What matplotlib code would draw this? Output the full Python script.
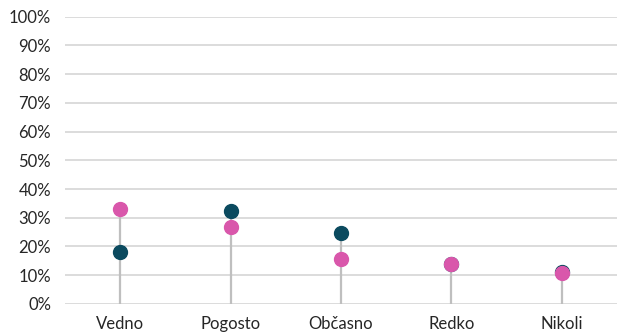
import numpy as np
import matplotlib.pyplot as plt
from matplotlib.ticker import PercentFormatter

plt.rcParams['font.family'] = ['Lato', 'DejaVu Sans']

categories = ['Vedno', 'Pogosto', 'Občasno', 'Redko', 'Nikoli']
series_a = [0.180, 0.323, 0.247, 0.140, 0.112]   # temno modra
series_b = [0.330, 0.269, 0.157, 0.139, 0.109]   # roza

teal = '#0b4a5f'
pink = '#d957ab'

fig = plt.figure(figsize=(6.17, 3.33), dpi=100)
ax = fig.add_axes([0.1053, 0.0871, 0.8947, 0.8633])

x = np.arange(len(categories))
tops = np.maximum(series_a, series_b)

ax.vlines(x, 0, tops, color='#bfbfbf', linewidth=1.6, zorder=2)
ax.plot(x, series_a, 'o', color=teal, markersize=10, zorder=3)
ax.plot(x, series_b, 'o', color=pink, markersize=10, zorder=4)

ax.set_ylim(0, 1)
ax.set_xlim(-0.5, len(categories) - 0.5)
ax.set_yticks(np.arange(0, 1.01, 0.1))
ax.yaxis.set_major_formatter(PercentFormatter(1.0, decimals=0))
ax.set_xticks(x)
ax.set_xticklabels(categories)
ax.grid(axis='y', color='#d9d9d9', linewidth=1.3, zorder=0)
ax.set_axisbelow(True)
for s in ax.spines.values():
    s.set_visible(False)
ax.tick_params(length=0, labelsize=12, colors='#262626')
ax.tick_params(axis='y', pad=10)
ax.tick_params(axis='x', pad=9)

fig.savefig('out.png', dpi=100)
